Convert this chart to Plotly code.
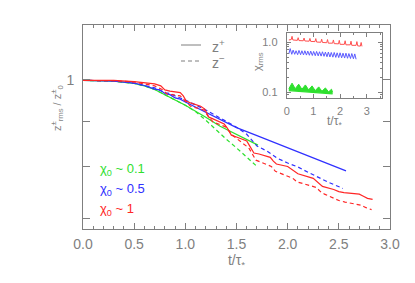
import plotly.graph_objects as go

# ---------------- main panel data (t / tau*, z_rms / z_0) ----------------
t_red_p = [0, 0.3, 0.5, 0.7, 0.76, 0.80, 0.85, 0.95, 0.98, 1.01, 1.05, 1.15, 1.19, 1.23, 1.27,
           1.38, 1.41, 1.45, 1.50, 1.60, 1.63, 1.67, 1.72, 1.83, 1.86, 1.89, 2.0, 2.06, 2.10,
           2.25, 2.30, 2.34, 2.45, 2.50, 2.55, 2.70, 2.74, 2.78, 2.83]
v_red_p = [0.999, 0.999, 0.996, 0.990, 0.985, 0.975, 0.972, 0.968, 0.960, 0.947, 0.943, 0.935, 0.928,
           0.909, 0.905, 0.893, 0.884, 0.868, 0.864, 0.855, 0.844, 0.829, 0.827, 0.820, 0.812, 0.806,
           0.801, 0.793, 0.786, 0.777, 0.769, 0.761, 0.755, 0.751, 0.749, 0.746, 0.742, 0.738, 0.736]

t_red_m = [0, 0.3, 0.5, 0.7, 0.78, 0.82, 0.95, 1.0, 1.05, 1.18, 1.22, 1.27, 1.40, 1.44, 1.47, 1.62,
           1.66, 1.69, 1.84, 1.88, 2.05, 2.09, 2.28, 2.32, 2.36, 2.50, 2.56, 2.72, 2.76, 2.82]
v_red_m = [0.999, 0.998, 0.995, 0.985, 0.975, 0.965, 0.960, 0.947, 0.935, 0.926, 0.912, 0.898, 0.886,
           0.873, 0.866, 0.840, 0.825, 0.814, 0.801, 0.791, 0.777, 0.770, 0.759, 0.751, 0.746, 0.734,
           0.731, 0.725, 0.721, 0.717]

t_blue_p = [0, 0.3, 0.5, 0.6, 0.7, 0.75, 0.8, 0.85, 0.9, 0.95, 1.0, 1.1, 1.2, 1.3, 1.4, 1.5, 1.7,
            1.9, 2.1, 2.3, 2.45, 2.57]
v_blue_p = [0.999, 0.997, 0.992, 0.986, 0.977, 0.975, 0.966, 0.963, 0.955, 0.952, 0.945, 0.933, 0.921,
            0.908, 0.897, 0.885, 0.867, 0.849, 0.832, 0.815, 0.803, 0.792]

t_blue_m = [0, 0.3, 0.5, 0.7, 0.8, 0.85, 0.9, 1.0, 1.2, 1.4, 1.5, 1.6, 1.7, 1.8, 1.9, 2.0, 2.1, 2.2,
            2.3, 2.4, 2.54]
v_blue_m = [0.999, 0.998, 0.992, 0.980, 0.968, 0.966, 0.960, 0.950, 0.926, 0.900, 0.886, 0.870, 0.844,
            0.833, 0.818, 0.808, 0.800, 0.789, 0.779, 0.769, 0.757]

t_green_p = [0, 0.3, 0.5, 0.6, 0.7, 0.8, 0.9, 1.0, 1.1, 1.2, 1.34, 1.5, 1.6, 1.71]
v_green_p = [0.999, 0.997, 0.991, 0.985, 0.976, 0.962, 0.950, 0.937, 0.923, 0.909, 0.888, 0.869, 0.858, 0.846]

t_green_m = [0, 0.3, 0.5, 0.6, 0.7, 0.8, 0.9, 1.0, 1.1, 1.2, 1.3, 1.4, 1.5, 1.6, 1.69]
v_green_m = [0.999, 0.997, 0.991, 0.985, 0.976, 0.962, 0.950, 0.937, 0.922, 0.902, 0.880, 0.859,
             0.840, 0.820, 0.803]

# ---------------- inset data (t / tau*, chi_rms) ----------------
t_red_i = [0.08, 0.17, 0.20, 0.23, 0.40, 0.43, 0.46, 0.62, 0.65, 0.68, 0.84, 0.87, 0.90, 1.06, 1.09,
           1.12, 1.28, 1.31, 1.34, 1.50, 1.53, 1.56, 1.72, 1.75, 1.78, 1.94, 1.97, 2.00, 2.16, 2.19,
           2.22, 2.38, 2.41, 2.44, 2.60, 2.63, 2.66, 2.76, 2.79, 2.82]
v_red_i = [1.10, 1.12, 1.30, 1.10, 1.08, 1.22, 1.07, 1.06, 1.20, 1.05, 1.04, 1.18, 1.03, 1.02, 1.17,
           1.00, 0.99, 1.14, 0.98, 0.97, 1.12, 0.95, 0.95, 1.10, 0.93, 0.92, 1.08, 0.90, 0.90, 1.06,
           0.88, 0.88, 1.04, 0.86, 0.86, 1.02, 0.84, 0.83, 0.98, 0.82]

t_blue_i = [0.08, 0.13, 0.19, 0.24, 0.30, 0.35, 0.41, 0.46, 0.52, 0.57, 0.63, 0.68, 0.74, 0.79, 0.85,
            0.90, 0.96, 1.01, 1.07, 1.12, 1.18, 1.23, 1.29, 1.34, 1.40, 1.45, 1.51, 1.56, 1.62, 1.67,
            1.73, 1.78, 1.84, 1.89, 1.95, 2.00, 2.06, 2.11, 2.17, 2.22, 2.28, 2.33, 2.39, 2.44, 2.50,
            2.55, 2.60]
v_blue_i = [0.58, 0.74, 0.57, 0.69, 0.57, 0.67, 0.56, 0.68, 0.56, 0.67, 0.555, 0.67, 0.55, 0.66, 0.545,
            0.66, 0.54, 0.65, 0.535, 0.65, 0.53, 0.64, 0.525, 0.64, 0.52, 0.63, 0.51, 0.63, 0.505, 0.62,
            0.50, 0.62, 0.495, 0.61, 0.49, 0.61, 0.485, 0.60, 0.48, 0.60, 0.475, 0.59, 0.47, 0.59, 0.465,
            0.58, 0.455]

t_green_i = [0.08, 0.20, 0.32, 0.45, 0.57, 0.70, 0.82, 0.95, 1.07, 1.20, 1.32, 1.45, 1.57, 1.68, 1.72]
v_green_i = [0.118, 0.152, 0.118, 0.145, 0.115, 0.140, 0.112, 0.134, 0.108, 0.128, 0.105, 0.122,
             0.102, 0.115, 0.100]
t_green_base = [0.08, 0.9, 1.72]
v_green_base = [0.108, 0.100, 0.093]

# ---------------- styling ----------------
RED = '#ff2626'
BLUE = '#3030ff'
GREEN = '#2ee02e'
GREY = '#7f7f7f'
FONT = 'Liberation Sans'
DASH = '4px,3px'

W, H = 415, 283
L, R, T, B = 83, 390, 25, 229
IL, IR, IT, IB = 286.7, 381.7, 33, 98.3


def px(x):
    return (x - L) / (R - L)


def py(y):
    return (B - y) / (B - T)


fig = go.Figure()

main = [
    (t_green_m, v_green_m, GREEN, DASH), (t_green_p, v_green_p, GREEN, 'solid'),
    (t_blue_m, v_blue_m, BLUE, DASH), (t_blue_p, v_blue_p, BLUE, 'solid'),
    (t_red_m, v_red_m, RED, DASH), (t_red_p, v_red_p, RED, 'solid'),
]
for tx, vy, c, d in main:
    fig.add_trace(go.Scatter(x=tx, y=vy, mode='lines', line=dict(color=c, width=1.2, dash=d),
                             showlegend=False, hoverinfo='skip'))

# inset traces
fig.add_trace(go.Scatter(x=t_green_base, y=v_green_base, mode='lines', xaxis='x2', yaxis='y2',
                         line=dict(color=GREEN, width=1.2), showlegend=False, hoverinfo='skip'))
fig.add_trace(go.Scatter(x=t_green_i, y=v_green_i, mode='lines', xaxis='x2', yaxis='y2',
                         line=dict(color=GREEN, width=1), fill='tonexty', fillcolor=GREEN,
                         showlegend=False, hoverinfo='skip'))
fig.add_trace(go.Scatter(x=t_blue_i, y=v_blue_i, mode='lines', xaxis='x2', yaxis='y2',
                         line=dict(color='#5a5aff', width=1), showlegend=False, hoverinfo='skip'))
fig.add_trace(go.Scatter(x=t_red_i, y=v_red_i, mode='lines', xaxis='x2', yaxis='y2',
                         line=dict(color='#ff5050', width=1), showlegend=False, hoverinfo='skip'))

axis_common = dict(showline=True, linecolor=GREY, linewidth=1, mirror='ticks', ticks='inside',
                   tickcolor=GREY, showgrid=False, zeroline=False)

fig.update_layout(
    width=W, height=H, plot_bgcolor='white', paper_bgcolor='white',
    margin=dict(l=L, r=W - R, t=T, b=H - B, autoexpand=False),
    font=dict(family=FONT, color=GREY, size=13),
    xaxis=dict(range=[0, 3], tickmode='array', tickvals=[0, 0.5, 1, 1.5, 2, 2.5, 3],
               ticktext=['0.0', '0.5', '1.0', '1.5', '2.0', '2.5', '3.0'], ticklen=6,
               minor=dict(tickmode='array', tickvals=[i / 10 for i in range(31)], ticks='inside',
                          ticklen=3, tickcolor=GREY),
               title=dict(text='t/τ<sub>*</sub>', standoff=2, font=dict(size=14)),
               tickfont=dict(size=14), ticklabelstandoff=2, **axis_common),
    yaxis=dict(type='log', range=[-0.1661, 0.0613], tickmode='array', tickvals=[0.7, 0.8, 0.9, 1.0],
               ticktext=['', '', '', '1'], ticklen=7, tickfont=dict(size=14), ticklabelstandoff=5,
               **axis_common),
    xaxis2=dict(domain=[px(IL), px(IR)], anchor='y2', range=[0, 3.56], tickmode='array',
                tickvals=[0, 1, 2, 3], ticktext=['0', '1', '2', '3'], ticklen=4,
                minor=dict(tickmode='array', tickvals=[0.5, 1.5, 2.5, 3.5], ticks='inside',
                           ticklen=2, tickcolor=GREY),
                tickfont=dict(size=11), ticklabelstandoff=2, **axis_common),
    yaxis2=dict(domain=[py(IB), py(IT)], anchor='x2', type='log', range=[-1.12, 0.18],
                tickmode='array', tickvals=[0.1, 1.0], ticktext=['0.1', '1.0'], ticklen=4,
                minor=dict(tickmode='array', tickvals=[0.09, 0.2, 0.3, 0.4, 0.5, 0.6, 0.7, 0.8, 0.9],
                           ticks='inside', ticklen=2, tickcolor=GREY),
                tickfont=dict(size=11), ticklabelstandoff=6, **axis_common),
)

# legend samples
fig.add_shape(type='line', xref='paper', yref='paper', x0=px(181), x1=px(201), y0=py(45), y1=py(45),
              line=dict(color=GREY, width=1))
fig.add_shape(type='line', xref='paper', yref='paper', x0=px(181), x1=px(201), y0=py(61), y1=py(61),
              line=dict(color=GREY, width=1, dash=DASH))

ann = [
    (px(210), py(46), 'z<sup>+</sup>', GREY, 14, 'left', 0),
    (px(210), py(62), 'z<sup>−</sup>', GREY, 14, 'left', 0),
    (px(98), py(169), 'χ<sub>0</sub> ~ 0.1', GREEN, 13, 'left', 0),
    (px(98), py(189), 'χ<sub>0</sub> ~ 0.5', BLUE, 13, 'left', 0),
    (px(98), py(209), 'χ<sub>0</sub> ~ 1', RED, 13, 'left', 0),
    (px(57), py(108), 'z<sup>±</sup><sub>rms</sub> / z<sup>±</sup><sub>0</sub>', GREY, 11, 'center', -90),
    (px(258), py(62), 'χ<sub>rms</sub>', GREY, 11, 'center', -90),
    (px(334), py(122), 't/τ<sub>*</sub>', GREY, 12, 'center', 0),
]
for x, y, txt, c, s, xa, ang in ann:
    fig.add_annotation(x=x, y=y, xref='paper', yref='paper', text=txt, showarrow=False,
                       xanchor=xa, yanchor='middle', textangle=ang, font=dict(color=c, size=s, family=FONT))

fig.write_html('out.html', config={'displayModeBar': False},
               post_script="document.body.style.margin='0';")
